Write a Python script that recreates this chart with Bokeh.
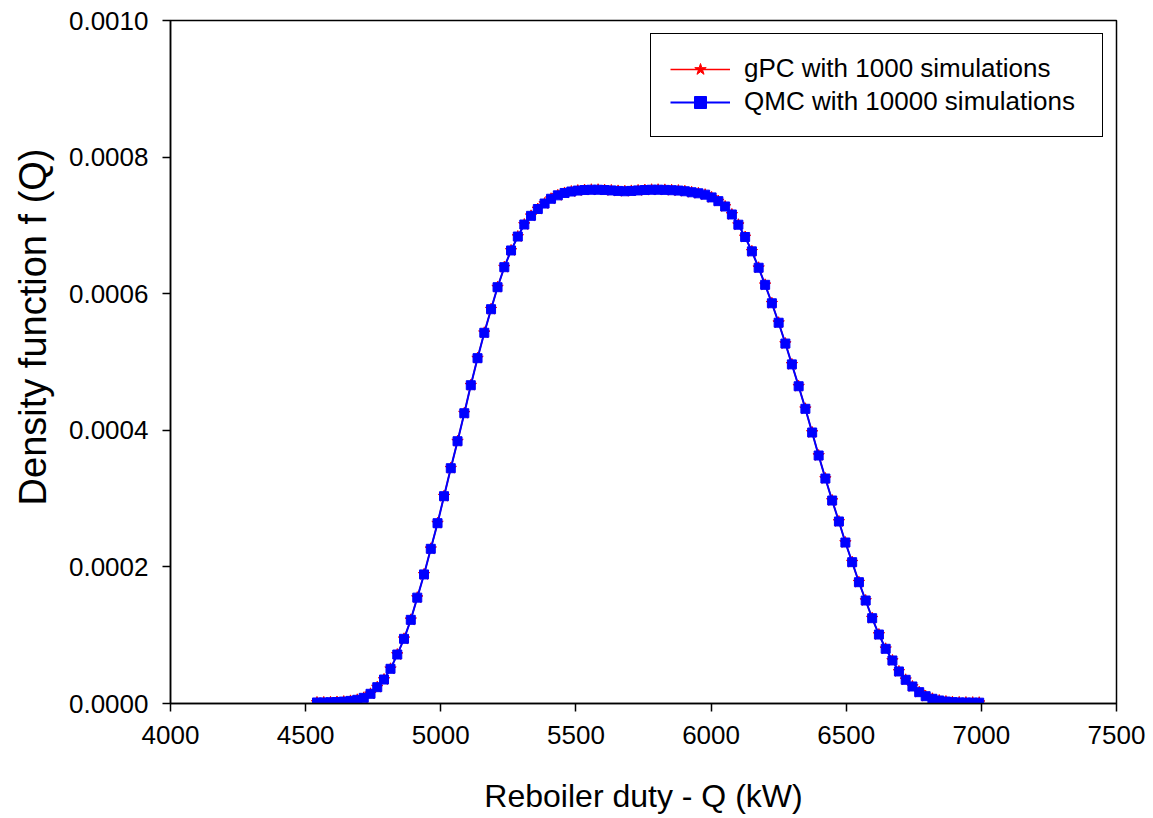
from bokeh.plotting import figure
from bokeh.models import FixedTicker, PrintfTickFormatter, Range1d, Legend, LegendItem, Title
from bokeh.embed import file_html
from bokeh.resources import INLINE

# Reboiler duty Q (kW)
duty_q = [4542, 4567, 4592, 4616, 4641, 4666, 4691, 4715, 4740, 4765,
          4790, 4814, 4839, 4864, 4889, 4913, 4938, 4963, 4988, 5012,
          5037, 5062, 5087, 5111, 5136, 5161, 5186, 5210, 5235, 5260,
          5285, 5309, 5334, 5359, 5384, 5408, 5433, 5458, 5483, 5507,
          5532, 5557, 5582, 5606, 5631, 5656, 5681, 5705, 5730, 5755,
          5780, 5804, 5829, 5854, 5879, 5903, 5928, 5953, 5978, 6002,
          6027, 6052, 6077, 6101, 6126, 6151, 6176, 6200, 6225, 6250,
          6275, 6299, 6324, 6349, 6374, 6398, 6423, 6448, 6473, 6497,
          6522, 6547, 6572, 6596, 6621, 6646, 6671, 6695, 6720, 6745,
          6770, 6794, 6819, 6844, 6869, 6893, 6918, 6943, 6968, 6992]

# QMC with 10000 simulations: density f(Q)
qmc_density = [0.0000015, 0.0000016, 0.0000018, 0.0000022, 0.0000028, 0.0000038, 0.0000054, 0.0000083, 0.0000142, 0.0000239,
               0.0000351, 0.0000508, 0.0000717, 0.0000947, 0.0001225, 0.0001550, 0.0001890, 0.0002265, 0.0002640, 0.0003035,
               0.0003445, 0.0003840, 0.0004250, 0.0004660, 0.0005056, 0.0005428, 0.0005773, 0.0006095, 0.0006388, 0.0006633,
               0.0006837, 0.0007013, 0.0007140, 0.0007240, 0.0007320, 0.0007390, 0.0007440, 0.0007475, 0.0007496, 0.0007510,
               0.0007518, 0.0007522, 0.0007522, 0.0007518, 0.0007512, 0.0007505, 0.0007500, 0.0007505, 0.0007512, 0.0007518,
               0.0007522, 0.0007522, 0.0007520, 0.0007515, 0.0007510, 0.0007500, 0.0007485, 0.0007470, 0.0007450, 0.0007410,
               0.0007355, 0.0007277, 0.0007160, 0.0007010, 0.0006830, 0.0006620, 0.0006380, 0.0006130, 0.0005860, 0.0005575,
               0.0005270, 0.0004965, 0.0004645, 0.0004315, 0.0003968, 0.0003631, 0.0003294, 0.0002972, 0.0002665, 0.0002357,
               0.0002069, 0.0001776, 0.0001508, 0.0001249, 0.0001010, 0.0000801, 0.0000630, 0.0000469, 0.0000347, 0.0000249,
               0.0000166, 0.0000107, 0.0000069, 0.0000044, 0.0000029, 0.0000020, 0.0000016, 0.0000014, 0.0000013, 0.0000012]

# gPC with 1000 simulations: density f(Q)
gpc_density = [0.0000015, 0.0000016, 0.0000018, 0.0000022, 0.0000028, 0.0000038, 0.0000054, 0.0000083, 0.0000142, 0.0000239,
               0.0000351, 0.0000508, 0.0000717, 0.0000947, 0.0001225, 0.0001550, 0.0001890, 0.0002265, 0.0002640, 0.0003035,
               0.0003445, 0.0003840, 0.0004250, 0.0004660, 0.0005056, 0.0005428, 0.0005773, 0.0006095, 0.0006388, 0.0006633,
               0.0006837, 0.0007013, 0.0007140, 0.0007240, 0.0007320, 0.0007390, 0.0007440, 0.0007475, 0.0007496, 0.0007510,
               0.0007518, 0.0007522, 0.0007522, 0.0007518, 0.0007512, 0.0007505, 0.0007500, 0.0007505, 0.0007512, 0.0007518,
               0.0007522, 0.0007522, 0.0007520, 0.0007515, 0.0007510, 0.0007500, 0.0007485, 0.0007470, 0.0007450, 0.0007410,
               0.0007355, 0.0007277, 0.0007160, 0.0007010, 0.0006830, 0.0006620, 0.0006380, 0.0006130, 0.0005860, 0.0005575,
               0.0005270, 0.0004965, 0.0004645, 0.0004315, 0.0003968, 0.0003631, 0.0003294, 0.0002972, 0.0002665, 0.0002357,
               0.0002069, 0.0001776, 0.0001508, 0.0001249, 0.0001010, 0.0000801, 0.0000630, 0.0000469, 0.0000347, 0.0000249,
               0.0000166, 0.0000107, 0.0000069, 0.0000044, 0.0000029, 0.0000020, 0.0000016, 0.0000014, 0.0000013, 0.0000012]

x_ticks = [4000, 4500, 5000, 5500, 6000, 6500, 7000, 7500]
y_ticks = [0.0, 0.0002, 0.0004, 0.0006, 0.0008, 0.0010]

FONT = "Liberation Sans"

p = figure(width=1150, height=816, output_backend="svg", toolbar_location=None,
           x_range=Range1d(4000, 7500), y_range=Range1d(0, 0.001),
           min_border_left=170, min_border_right=34, min_border_top=20, min_border_bottom=113)

p.background_fill_color = "white"
p.border_fill_color = "white"
p.outline_line_color = "black"
p.outline_line_width = 1.5
p.outline_line_alpha = 1.0
p.grid.visible = False

for ax in (p.xaxis[0], p.yaxis[0]):
    ax.axis_line_color = "black"
    ax.axis_line_width = 1.5
    ax.major_tick_line_color = "black"
    ax.major_tick_line_width = 1.5
    ax.major_tick_out = 8
    ax.major_tick_in = 0
    ax.minor_tick_line_color = None
    ax.major_label_text_font = FONT
    ax.major_label_text_font_size = "26px"
    ax.major_label_text_color = "black"
    ax.axis_label_text_font = FONT
    ax.axis_label_text_font_size = "32px"
    ax.axis_label_text_font_style = "normal"
    ax.axis_label_text_color = "black"

p.xaxis.ticker = FixedTicker(ticks=x_ticks)
p.yaxis.ticker = FixedTicker(ticks=y_ticks)
p.yaxis.formatter = PrintfTickFormatter(format="%.4f")
p.xaxis.axis_label = "Reboiler duty - Q (kW)"
p.xaxis.major_label_standoff = 14
p.yaxis.major_label_standoff = 14
p.xaxis.axis_label_standoff = 31

ylab = Title(text="Density function f (Q)", align="right", vertical_align="top",
             offset=128, standoff=20,
             text_font=FONT, text_font_size="38px", text_font_style="normal",
             text_color="black")
p.add_layout(ylab, "left")

r1l = p.line(duty_q, gpc_density, line_color="#FF0000", line_width=1.5)
r1s = p.scatter(duty_q, gpc_density, marker="star", size=12, fill_color="#FF0000", line_color="#FF0000")
r2l = p.line(duty_q, qmc_density, line_color="#0000FF", line_width=2)
r2s = p.scatter(duty_q, qmc_density, marker="square", size=9, fill_color="#0000FF", line_color="#0000FF")

legend = Legend(items=[LegendItem(label="gPC with 1000 simulations", renderers=[r1l, r1s]),
                       LegendItem(label="QMC with 10000 simulations", renderers=[r2l, r2s])],
                location="top_right", margin=13, padding=19, spacing=2,
                glyph_width=60, glyph_height=30, label_height=30, label_width=339,
                label_standoff=14, label_text_font=FONT, label_text_font_size="26px",
                label_text_color="black",
                border_line_color="black", border_line_width=1.5, border_line_alpha=1.0,
                background_fill_alpha=1.0)
p.add_layout(legend)

open("out.html", "w").write(file_html(p, INLINE))
